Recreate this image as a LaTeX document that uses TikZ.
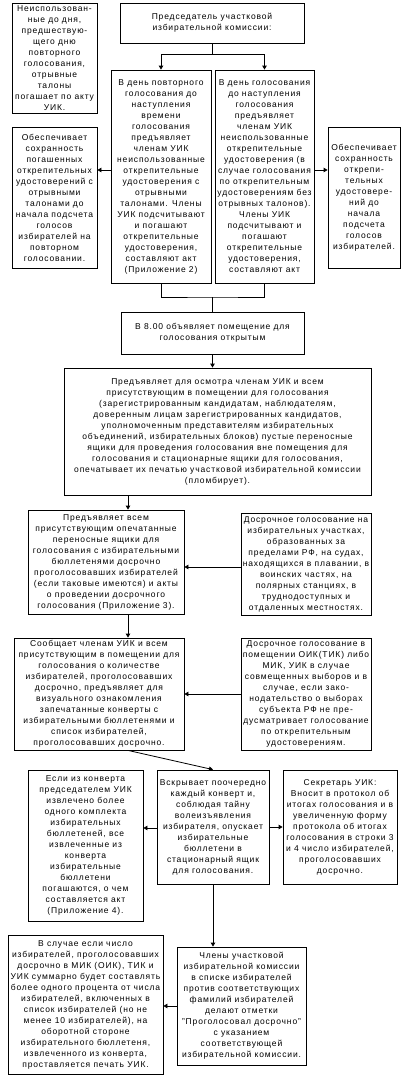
\documentclass[tikz,border=0pt]{standalone}
\usepackage{fontspec}
\setmainfont{Liberation Sans}[LetterSpace=10]
\usetikzlibrary{arrows.meta,calc}
\newcommand\mybox[6]{\node[box, minimum width={(#4-#2)*1pt}, minimum height={(#5-#3)*1pt}] (#1) at ({(#2+#4)/2},{(#3+#5)/2}) {#6};}
\begin{document}
\begin{tikzpicture}[x=1pt,y=-1pt,
  box/.style={draw, line width=0.8pt, align=center, inner sep=0pt, font=\fontsize{8.5}{11}\selectfont},
  arr/.style={-{Triangle[length=4pt,width=4.5pt]}, line width=0.8pt},
  ln/.style={line width=0.8pt}]
\useasboundingbox (0,0) rectangle (410,1077);
\mybox{A}{12}{3}{97}{113}{Неиспользован-\\ные до дня,\\предшествую-\\щего дню\\повторного\\голосования,\\отрывные\\талоны\\погашает по акту\\УИК.}
\mybox{Ch}{120}{3}{304}{43}{Председатель участковой\\избирательной комиссии:}
\mybox{B}{111}{70}{211}{283}{В день повторного\\голосования до\\наступления\\времени\\голосования\\предъявляет\\членам УИК\\неиспользованные\\открепительные\\удостоверения с\\отрывными\\талонами. Члены\\УИК подсчитывают\\и погашают\\открепительные\\удостоверения,\\составляют акт\\(Приложение 2)}
\mybox{C}{215}{70}{314}{283}{В день голосования\\до наступления\\голосования\\предъявляет\\членам УИК\\неиспользованные\\открепительные\\удостоверения (в\\случае голосования\\по открепительным\\удостоверениям без\\отрывных талонов).\\Члены УИК\\подсчитывают и\\погашают\\открепительные\\удостоверения,\\составляют акт}
\mybox{D}{12}{127}{97}{268}{Обеспечивает\\сохранность\\погашенных\\открепительных\\удостоверений с\\отрывными\\талонами до\\начала подсчета\\голосов\\избирателей на\\повторном\\голосовании.}
\mybox{E}{328}{127}{400}{268}{Обеспечивает\\сохранность\\откре­пи-\\тельных\\удостовере-\\ний до\\начала\\подсчета\\голосов\\избирателей.}
\mybox{F}{121}{312}{304}{354}{В 8.00 объявляет помещение для\\голосования открытым}
\mybox{G}{64}{368}{371}{495}{Предъявляет для осмотра членам УИК и всем\\присутствующим в помещении для голосования\\(зарегистрированным кандидатам, наблюдателям,\\доверенным лицам зарегистрированных кандидатов,\\уполномоченным представителям избирательных\\объединений, избирательных блоков) пустые переносные\\ящики для проведения голосования вне помещения для\\голосования и стационарные ящики для голосования,\\опечатывает их печатью участковой избирательной комиссии\\(пломбирует).}
\mybox{H}{28}{510}{184}{614}{Предъявляет всем\\присутствующим опечатанные\\переносные ящики для\\голосования с избирательными\\бюллетенями досрочно\\проголосовавших избирателей\\(если таковые имеются) и акты\\о проведении досрочного\\голосования (Приложение 3).}
\mybox{I}{241}{513}{371}{615}{Досрочное голосование на\\избирательных участках,\\образованных за\\пределами РФ, на судах,\\находящихся в плавании, в\\воинских частях, на\\полярных станциях, в\\труднодоступных и\\отдаленных местностях.}
\mybox{J}{14}{638}{184}{750}{Сообщает членам УИК и всем\\присутствующим в помещении для\\голосования о количестве\\избирателей, проголосовавших\\досрочно, предъявляет для\\визуального ознакомления\\запечатанные конверты с\\избирательными бюллетенями и\\список избирателей,\\проголосовавших досрочно.}
\mybox{K}{241}{638}{371}{750}{Досрочное голосование в\\помещении ОИК(ТИК) либо\\МИК, УИК в случае\\совмещенных выборов и в\\случае, если зако-\\нодательство о выборах\\субъекта РФ не пре-\\дусматривает голосование\\по открепительным\\удостоверениям.}
\mybox{L}{157}{770}{269}{884}{Вскрывает поочередно\\каждый конверт и,\\соблюдая тайну\\волеизъявления\\избирателя, опускает\\избирательные\\бюллетени в\\стационарный ящик\\для голосования.}
\mybox{M}{28}{770}{143}{921}{Если из конверта\\председателем УИК\\извлечено более\\одного комплекта\\избирательных\\бюллетеней, все\\извлеченные из\\конверта\\избирательные\\бюллетени\\погашаются, о чем\\составляется акт\\(Приложение 4).}
\mybox{N}{283}{770}{397}{884}{Секретарь УИК:\\Вносит в протокол об\\итогах голосования и в\\увеличенную форму\\протокола об итогах\\голосования в строки 3\\и 4 число избирателей,\\проголосовавших\\досрочно.}
\mybox{O}{177}{947}{306}{1065}{Члены участковой\\избирательной комиссии\\в списке избирателей\\против соответствующих\\фамилий избирателей\\делают отметки\\"Проголосовал досрочно"\\с указанием\\соответствующей\\избирательной комиссии.}
\mybox{P}{8}{935}{163}{1074}{В случае если число\\избирателей, проголосовавших\\досрочно в МИК (ОИК), ТИК и\\УИК суммарно будет составлять\\более одного процента от числа\\избирателей, включенных в\\список избирателей (но не\\менее 10 избирателей), на\\оборотной стороне\\избирательного бюллетеня,\\извлеченного из конверта,\\проставляется печать УИК.}
% helper coordinates
\coordinate (j0) at (212,54);
\coordinate (j1) at (212.5,297);
\coordinate (y1) at (0,170);
\coordinate (y2) at (0,567);
\coordinate (y3) at (0,828);
\coordinate (x1) at (128,0);
% connectors
\draw[ln] (Ch.south) -- (j0);
\draw[arr] (j0) -| (B.north);
\draw[arr] (j0) -| (C.north);
\draw[arr] (B.west |- y1) -- (D.east |- y1);
\draw[arr] (C.east |- y1) -- (E.west |- y1);
\draw[ln] (B.south) |- (j1) -| (C.south);
\draw[ln] (j1) -- (F.north);
\draw[arr] (F.south) -- (F.south |- G.north);
\draw[arr] (G.south -| x1) -- (H.north -| x1);
\draw[arr] (I.west |- y2) -- (H.east |- y2);
\draw[arr] (H.south -| x1) -- (J.north -| x1);
\draw[arr] (K) -- (J);
\draw[arr] (J.south -| x1) -- (L.north);
\draw[arr] (L.west |- y3) -- (M.east |- y3);
\draw[arr] (L) -- (N);
\draw[arr] (L.south) -- (L.south |- O.north);
\draw[arr] (O.west) -- (O.west -| P.east);
\end{tikzpicture}
\end{document}
